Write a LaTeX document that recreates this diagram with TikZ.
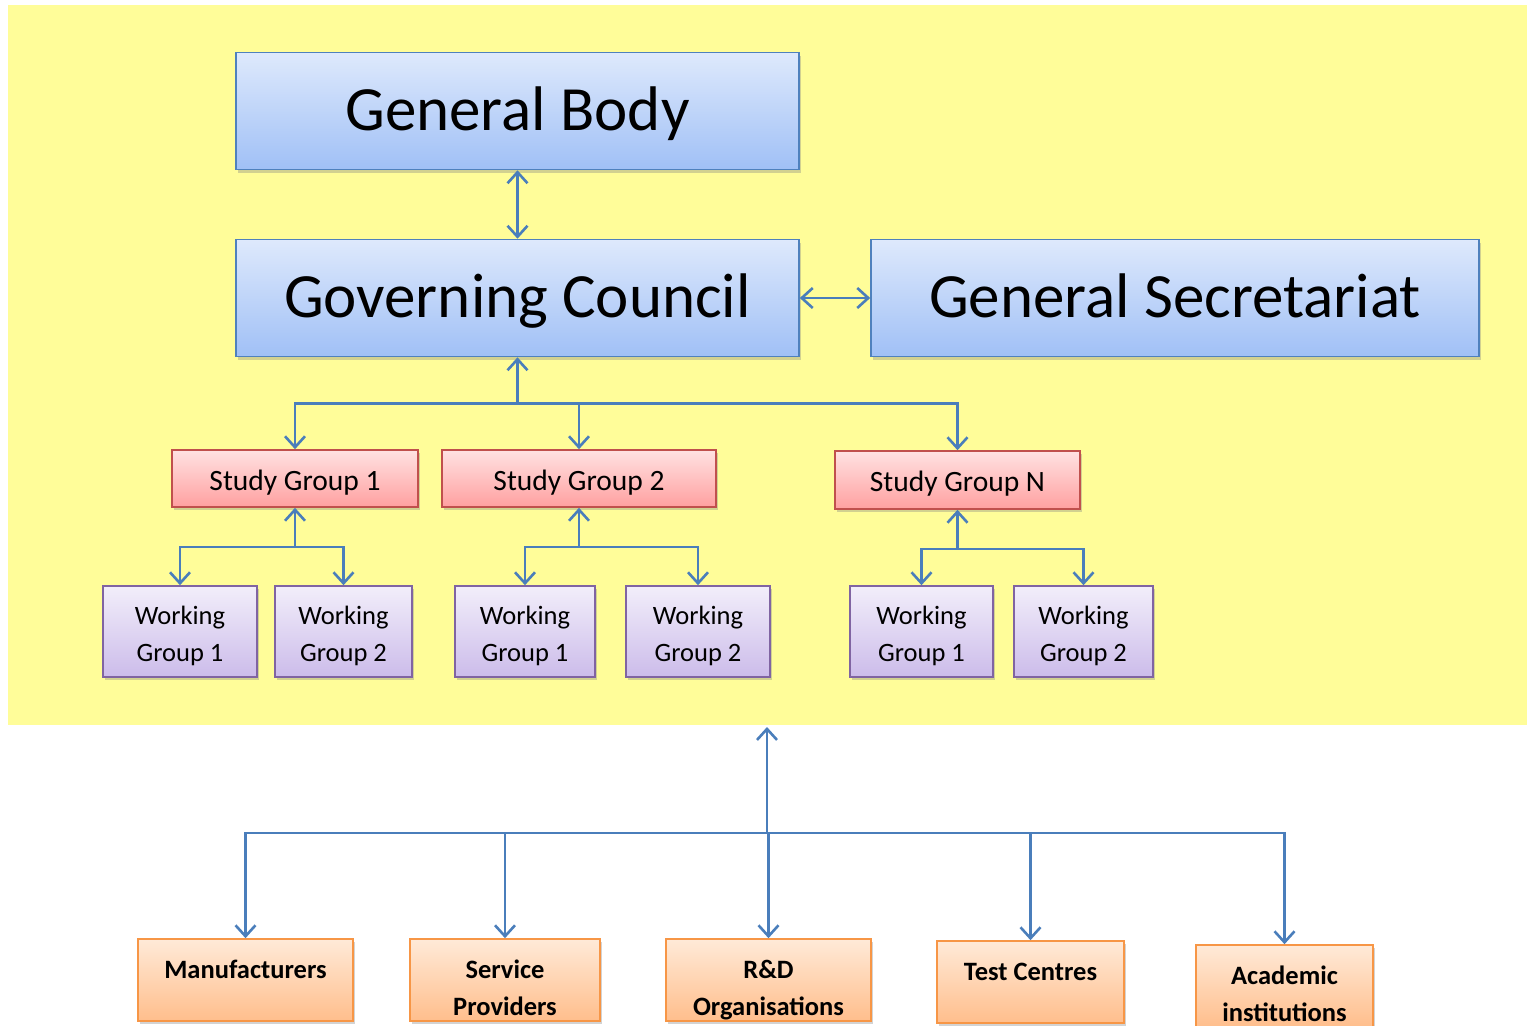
\documentclass[tikz,border=0pt]{standalone}
\usepackage{fontspec}
\setmainfont{Carlito}
\usetikzlibrary{arrows.meta,shadows}
\definecolor{bgyellow}{RGB}{255,253,153}
\definecolor{conncol}{RGB}{74,126,187}
\definecolor{blueborder}{RGB}{79,129,189}
\definecolor{bluetop}{RGB}{222,233,252}
\definecolor{bluebot}{RGB}{160,192,246}
\definecolor{redborder}{RGB}{192,80,77}
\definecolor{redtop}{RGB}{255,226,226}
\definecolor{redbot}{RGB}{255,160,160}
\definecolor{purpborder}{RGB}{128,100,162}
\definecolor{purptop}{RGB}{242,238,250}
\definecolor{purpbot}{RGB}{204,188,234}
\definecolor{orborder}{RGB}{247,150,70}
\definecolor{ortop}{RGB}{255,234,216}
\definecolor{orbot}{RGB}{255,190,140}
\newcommand\sdtxt[2]{\raisebox{-#1}[\height][\depth]{\begin{tabular}{@{}c@{}}#2\end{tabular}}}
\begin{document}
\begin{tikzpicture}[x=1pt,y=-1pt,
  boxbase/.style={line width=1.6pt, inner sep=0pt, drop shadow={opacity=0.35, shadow xshift=2pt, shadow yshift=-3pt}},
  bluebox/.style={boxbase, draw=blueborder, top color=bluetop, bottom color=bluebot, font=\fontsize{63}{70}\selectfont, text height=50pt, text depth=12pt, minimum height=117pt},
  redbox/.style={boxbase, draw=redborder, top color=redtop, bottom color=redbot, font=\fontsize{29.5}{34}\selectfont, text height=23pt, text depth=0pt, minimum height=57pt},
  purpbox/.style={boxbase, draw=purpborder, top color=purptop, bottom color=purpbot, font=\fontsize{26.5}{37}\selectfont, minimum height=91pt},
  orbox/.style={boxbase, draw=orborder, top color=ortop, bottom color=orbot, font=\bfseries\fontsize{26.5}{37}\selectfont, minimum height=82pt},
  conn/.style={draw=conncol, line width=2.6pt, >={Straight Barb[length=11pt,width=20pt,line width=2.6pt]}}
]
\useasboundingbox (0,0) rectangle (1527,1026);
\fill[bgyellow] (8,5) rectangle (1527,725);

% top level
\node[bluebox, minimum width=563pt] (gb) at (517.5,111) {General Body};
\node[bluebox, minimum width=563pt] (gc) at (517.5,298) {Governing Council};
\node[bluebox, minimum width=608pt] (gs) at (1175,298) {General Secretariat};

% study groups
\node[redbox, minimum width=246pt] (sg1) at (295,478.5) {Study Group 1};
\node[redbox, minimum width=274pt] (sg2) at (579,478.5) {Study Group 2};
\node[redbox, minimum width=245pt, minimum height=58pt] (sgn) at (957.5,480) {Study Group N};

% working groups
\node[purpbox, minimum width=154pt] (wg1a) at (180,631.5) {\sdtxt{4pt}{Working\\Group 1}};
\node[purpbox, minimum width=137pt] (wg2a) at (343.5,631.5) {\sdtxt{4pt}{Working\\Group 2}};
\node[purpbox, minimum width=140pt] (wg1b) at (525,631.5) {\sdtxt{4pt}{Working\\Group 1}};
\node[purpbox, minimum width=144pt] (wg2b) at (698,631.5) {\sdtxt{4pt}{Working\\Group 2}};
\node[purpbox, minimum width=143pt] (wg1c) at (921.5,631.5) {\sdtxt{4pt}{Working\\Group 1}};
\node[purpbox, minimum width=139pt] (wg2c) at (1083.5,631.5) {\sdtxt{4pt}{Working\\Group 2}};

% stakeholders
\node[orbox, minimum width=215pt] (manu) at (245.5,980) {\sdtxt{10pt}{Manufacturers\\\mbox{}}};
\node[orbox, minimum width=190pt] (serv) at (505,980) {\sdtxt{10pt}{Service\\Providers}};
\node[orbox, minimum width=205pt] (rnd) at (768.5,980) {\sdtxt{10pt}{R\&D\\Organisations}};
\node[orbox, minimum width=187pt] (test) at (1030.5,982) {\sdtxt{10pt}{Test Centres\\\mbox{}}};
\node[orbox, minimum width=177pt] (acad) at (1284.5,986) {\sdtxt{10pt}{Academic\\institutions}};

% connectors
\draw[conn,<->] (gb.south) -- (gc.north);
\draw[conn,<->] (gc.east) -- (gs.west);

\draw[conn,<-] (gc.south) -- ++(0,46) coordinate (hubgc);
\draw[conn,->] (hubgc) -| (sg1.north);
\draw[conn,->] (hubgc) -| (sg2.north);
\draw[conn,->] (hubgc) -| (sgn.north);

\draw[conn,<-] (sg1.south) -- ++(0,39) coordinate (hub1);
\draw[conn,->] (hub1) -| (wg1a.north);
\draw[conn,->] (hub1) -| (wg2a.north);

\draw[conn,<-] (sg2.south) -- ++(0,39) coordinate (hub2);
\draw[conn,->] (hub2) -| (wg1b.north);
\draw[conn,->] (hub2) -| (wg2b.north);

\draw[conn,<-] (sgn.south) -- ++(0,39) coordinate (hubn);
\draw[conn,->] (hubn) -| (wg1c.north);
\draw[conn,->] (hubn) -| (wg2c.north);

\coordinate (up) at (767,727);
\draw[conn,<-] (up) -- (767,833) coordinate (hubb);
\draw[conn,->] (hubb) -| (manu.north);
\draw[conn,->] (hubb) -| (serv.north);
\draw[conn,->] (hubb) -| (rnd.north);
\draw[conn,->] (hubb) -| (test.north);
\draw[conn,->] (hubb) -| (acad.north);
\end{tikzpicture}
\end{document}
